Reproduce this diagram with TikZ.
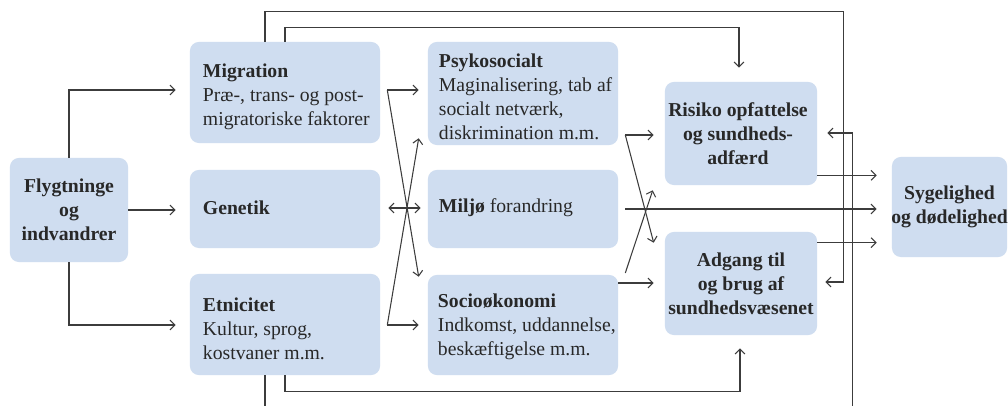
\documentclass[tikz,border=0pt]{standalone}
\usepackage{fontspec}
\setmainfont{Liberation Serif}
\usetikzlibrary{arrows.meta,calc}
\definecolor{boxblue}{RGB}{207,221,240}
\definecolor{ink}{RGB}{40,40,40}
\definecolor{wirecol}{RGB}{60,60,60}

\begin{document}
\begin{tikzpicture}[x=0.025cm,y=-0.025cm,
  panel/.style={fill=boxblue, draw=none, rounded corners=0.22cm, inner sep=0},
  body/.style={inner sep=0, text=ink, font=\fontsize{14pt}{17pt}\selectfont, align=left, anchor=west},
  hub/.style={inner sep=0, text=ink, font=\fontsize{14pt}{17pt}\selectfont\bfseries, align=center},
  wire/.style={draw=wirecol, line width=0.75pt},
  arr/.style={wire, -{Straight Barb[length=3.5pt,width=7pt]}},
  dbl/.style={wire, {Straight Barb[length=3.5pt,width=7pt]}-{Straight Barb[length=3.5pt,width=7pt]}},
]
\useasboundingbox (0,0) rectangle (1008,406);
\clip (0,0) rectangle (1008,406);
\fill[white] (0,0) rectangle (1008,406);

% ---- boxes ----
\node[panel, minimum width=2.95cm, minimum height=2.6cm]   (fly) at (69,210) {};
\node[panel, minimum width=4.75cm, minimum height=2.525cm] (mig) at (285,92.5) {};
\node[panel, minimum width=4.75cm, minimum height=1.95cm]  (gen) at (285,209) {};
\node[panel, minimum width=4.75cm, minimum height=2.525cm] (etn) at (285,324.5) {};
\node[panel, minimum width=4.75cm, minimum height=2.575cm] (psy) at (523,93.5) {};
\node[panel, minimum width=4.75cm, minimum height=1.95cm]  (mil) at (523,209) {};
\node[panel, minimum width=4.75cm, minimum height=2.5cm]   (soc) at (523,325) {};
\node[panel, minimum width=3.8cm,  minimum height=2.575cm] (ris) at (741,133.5) {};
\node[panel, minimum width=3.8cm,  minimum height=2.575cm] (adg) at (741,283.5) {};
\node[panel, minimum width=2.875cm, minimum height=2.5cm]  (syg) at (949.5,207) {};

% ---- texts ----
\node[hub] (flyt) at (fly) {Flygtninge\\og\\indvandrer};
\node[body] (migt) at ($(mig.west)+(13,4)$) {{\bfseries Migration}\\Præ-, trans- og post-\\migratoriske faktorer};
\node[body] (gent) at ($(gen.west)+(13,-1)$) {{\bfseries Genetik}};
\node[body] (etnt) at ($(etn.west)+(13,4)$) {{\bfseries Etnicitet}\\Kultur, sprog,\\kostvaner m.m.};
\node[body] (psyt) at ($(psy.west)+(11,3)$) {{\bfseries Psykosocialt}\\Maginalisering, tab af\\socialt netværk,\\diskrimination m.m.};
\node[body] (milt) at ($(mil.west)+(11,-1)$) {{\bfseries Miljø} forandring};
\node[body] (soct) at ($(soc.west)+(10,2)$) {{\bfseries Socioøkonomi}\\Indkomst, uddannelse,\\beskæftigelse m.m.};
\node[hub] (rist) at ($(ris)+(-3,0)$) {Risiko opfattelse\\og sundheds-\\adfærd};
\node[hub] (adgt) at (adg) {Adgang til\\og brug af\\sundhedsvæsenet};
\node[hub] (sygt) at (syg) {Sygelighed\\og dødelighed};

% ---- fan-out from the first box ----
\draw[arr] (fly.north) |- ($(mig.west)+(-14,-2.5)$);
\draw[arr, shorten >=0.35cm] (fly.east) -- (fly.east -| gen.west);
\draw[arr] (fly.south) |- ($(etn.west)+(-14,0.5)$);

% ---- first crossing ----
\coordinate (mx) at ($(mig.east)+(7,-2.5)$);
\coordinate (ex) at ($(etn.east)+(7,0.5)$);
\draw[arr] (mx) -- ($(psy.west |- mx)+(-9,0)$);
\draw[arr] (mx) -- ($(soc.north west)+(-9,2)$);
\draw[arr] (ex) -- ($(soc.west |- ex)+(-9,0)$);
\draw[arr] (ex) -- ($(psy.south west)+(-9,-7)$);
\draw[dbl] ($(gen.east)+(8,-1)$) -- ($(mil.west)+(-7,-1)$);

% ---- second crossing ----
\coordinate (px) at ($(psy.east)+(7,41.5)$);
\coordinate (sx) at ($(soc.east)+(7,-52)$);
\draw[arr] (px) -- ($(ris.west |- px)+(-11,0)$);
\draw[arr] (px) -- ($(adg.north west)+(-11,11)$);
\draw[arr] (sx) -- ($(ris.south west)+(-12,5)$);
\draw[arr] ($(soc.east)+(0,-42)$) -- ($(adg.west)+(-11,-0.5)$);

% ---- into the outcome box ----
\draw[arr] ($(mil.east)+(7,0)$) -- ($(mil.east -| syg.west)+(-15,0)$);
\draw[arr] ($(ris.south east)+(0,-10)$) -- ($(ris.south east -| syg.west)+(-15,-10)$);
\draw[arr] ($(adg.north east)+(0,11)$) -- ($(adg.north east -| syg.west)+(-15,11)$);

% ---- outer loops ----
\draw[arr] ($(mig.north)+(-20,0)$) -- ++(0,-30) -| ($(adg.east)+(26,-1.5)$) -- ($(adg.east)+(8,-1.5)$);
\draw[arr] ($(etn.south)+(-20,0)$) -- ++(0,45) -| ($(ris.east)+(35,-0.5)$) -- ($(ris.east)+(10,-0.5)$);

% ---- inner loops ----
\draw[arr] (mig.north) -- ++(0,-14) -| ($(ris.north)+(-2,-14)$);
\draw[arr] (etn.south) -- ++(0,16) -| ($(adg.south)+(-1,13)$);
\end{tikzpicture}
\end{document}
